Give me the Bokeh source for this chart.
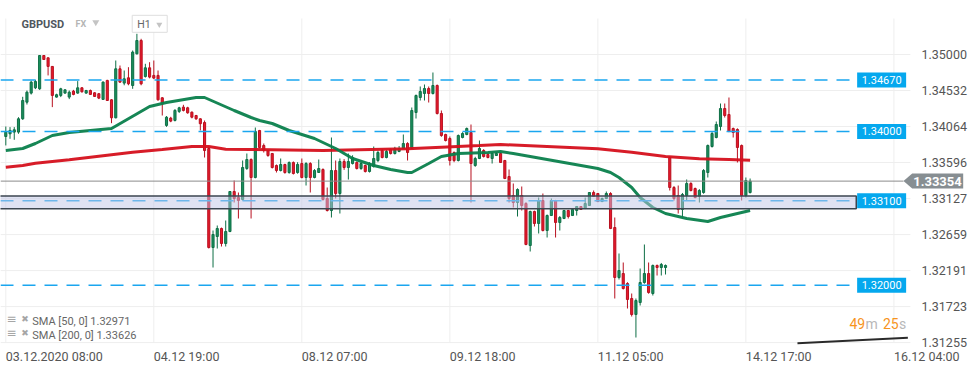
from bokeh.plotting import figure
from bokeh.models import Range1d, FixedTicker, PrintfTickFormatter, ColumnDataSource
from bokeh.embed import file_html
from bokeh.resources import INLINE
from bokeh.core.properties import value

# ---------------- data (GBPUSD, H1) ----------------
opens = [1.33934, 1.33969, 1.33991, 1.33991, 1.34164, 1.34380, 1.34498, 1.34567, 1.34554, 1.34987,
         1.34957, 1.34845, 1.34446, 1.34468, 1.34498, 1.34446, 1.34524, 1.34498, 1.34567, 1.34498,
         1.34532, 1.34502, 1.34490, 1.34416, 1.34663, 1.34411, 1.34177, 1.34814, 1.34628, 1.34697,
         1.34597, 1.35009, 1.35182, 1.34714, 1.34827, 1.34728, 1.34728, 1.34437, 1.34078, 1.34173,
         1.34143, 1.34260, 1.34316, 1.34307, 1.34250, 1.34207, 1.34164, 1.34116, 1.33778, 1.32491,
         1.32634, 1.32738, 1.32543, 1.32699, 1.33219, 1.33141, 1.33115, 1.33518, 1.33635, 1.33401,
         1.34012, 1.33817, 1.33752, 1.33713, 1.33557, 1.33492, 1.33570, 1.33466, 1.33596, 1.33466,
         1.33583, 1.33401, 1.33583, 1.33401, 1.33466, 1.33505, 1.33128, 1.32972, 1.33492, 1.33193,
         1.33609, 1.33531, 1.33583, 1.33596, 1.33518, 1.33557, 1.33479, 1.33544, 1.33622, 1.33752,
         1.33661, 1.33765, 1.33713, 1.33740, 1.33778, 1.33843, 1.33778, 1.34246, 1.34441, 1.34493,
         1.34558, 1.34493, 1.34597, 1.34233, 1.33960, 1.33908, 1.33726, 1.33622, 1.33921, 1.33960,
         1.33986, 1.33557, 1.33648, 1.33752, 1.33700, 1.33648, 1.33687, 1.33713, 1.33622, 1.33414,
         1.33167, 1.33076, 1.33167, 1.33063, 1.32517, 1.32959, 1.32803, 1.33102, 1.32712, 1.32907,
         1.33102, 1.32816, 1.32868, 1.32972, 1.32907, 1.32972, 1.33024, 1.32998, 1.33037, 1.33206,
         1.33193, 1.33089, 1.33128, 1.33193, 1.32751, 1.32101, 1.32153, 1.32023, 1.31828, 1.31620,
         1.31776, 1.32036, 1.32153, 1.31893, 1.32257, 1.32231, 1.32231, 1.33661, 1.33271, 1.33167,
         1.32985, 1.33167, 1.33323, 1.33258, 1.33154, 1.33206, 1.33466, 1.33804, 1.33921, 1.34064,
         1.34298, 1.34220, 1.34038, 1.34025, 1.33817, 1.33167, 1.33206]
highs = [1.34064, 1.34056, 1.34056, 1.34185, 1.34450, 1.34532, 1.34660, 1.34671, 1.34987, 1.34990,
         1.34960, 1.34850, 1.34490, 1.34567, 1.34545, 1.34532, 1.34540, 1.34654, 1.34575, 1.34540,
         1.34545, 1.34510, 1.34500, 1.34650, 1.34671, 1.34420, 1.34922, 1.34857, 1.34792, 1.34835,
         1.35052, 1.35269, 1.35204, 1.34879, 1.34900, 1.34922, 1.34792, 1.34445, 1.34200, 1.34190,
         1.34290, 1.34320, 1.34346, 1.34320, 1.34260, 1.34215, 1.34170, 1.34142, 1.33804, 1.32712,
         1.32777, 1.32750, 1.32842, 1.33219, 1.33362, 1.33206, 1.33622, 1.33713, 1.33650, 1.34051,
         1.34020, 1.33843, 1.33760, 1.33720, 1.33570, 1.33648, 1.33580, 1.33610, 1.33610, 1.33600,
         1.33648, 1.33600, 1.33600, 1.33510, 1.33635, 1.33520, 1.33271, 1.33921, 1.33622, 1.33648,
         1.33640, 1.33713, 1.33690, 1.33610, 1.33600, 1.33570, 1.33600, 1.33804, 1.33750, 1.33770,
         1.33760, 1.33780, 1.33800, 1.33810, 1.33960, 1.33860, 1.34311, 1.34480, 1.34584, 1.34610,
         1.34584, 1.34766, 1.34610, 1.34272, 1.33970, 1.33934, 1.33740, 1.33960, 1.33990, 1.34051,
         1.34090, 1.33670, 1.33882, 1.33770, 1.33720, 1.33730, 1.33730, 1.33730, 1.33630, 1.33505,
         1.33323, 1.33260, 1.33284, 1.33080, 1.32970, 1.32970, 1.33141, 1.33193, 1.32920, 1.33128,
         1.33110, 1.32900, 1.32980, 1.32980, 1.32990, 1.33030, 1.33030, 1.33141, 1.33210, 1.33232,
         1.33200, 1.33140, 1.33219, 1.33210, 1.32881, 1.32413, 1.32296, 1.32040, 1.31893, 1.31828,
         1.32218, 1.32530, 1.32296, 1.32270, 1.32270, 1.32290, 1.32270, 1.33670, 1.33290, 1.33297,
         1.33200, 1.33375, 1.33340, 1.33270, 1.33250, 1.33510, 1.33830, 1.34000, 1.34129, 1.34363,
         1.34363, 1.34441, 1.34050, 1.34040, 1.33830, 1.33401, 1.33388]
lows = [1.33818, 1.33904, 1.33891, 1.33969, 1.34150, 1.34350, 1.34480, 1.34550, 1.34540, 1.34930,
        1.34728, 1.34316, 1.34440, 1.34446, 1.34490, 1.34420, 1.34470, 1.34490, 1.34505, 1.34490,
        1.34475, 1.34450, 1.34420, 1.34410, 1.34400, 1.34107, 1.34170, 1.34630, 1.34600, 1.34600,
        1.34554, 1.35000, 1.34600, 1.34700, 1.34690, 1.34680, 1.34400, 1.34207, 1.34060, 1.34120,
        1.34130, 1.34240, 1.34260, 1.34230, 1.34170, 1.34150, 1.34013, 1.33661, 1.32478, 1.32231,
        1.32478, 1.32504, 1.32504, 1.32690, 1.33076, 1.32868, 1.33102, 1.33500, 1.32868, 1.33390,
        1.33780, 1.33726, 1.33670, 1.33518, 1.33466, 1.33480, 1.33450, 1.33450, 1.33440, 1.33450,
        1.33390, 1.33297, 1.33206, 1.33390, 1.33460, 1.33100, 1.32959, 1.32881, 1.33128, 1.32933,
        1.33500, 1.33375, 1.33570, 1.33505, 1.33500, 1.33466, 1.33466, 1.33530, 1.33600, 1.33650,
        1.33650, 1.33700, 1.33700, 1.33730, 1.33770, 1.33622, 1.33770, 1.34168, 1.34402, 1.34402,
        1.34376, 1.34480, 1.34220, 1.33930, 1.33870, 1.33557, 1.33600, 1.33610, 1.33910, 1.33950,
        1.33076, 1.33540, 1.33640, 1.33660, 1.33650, 1.33583, 1.33680, 1.33590, 1.33380, 1.33076,
        1.33011, 1.32894, 1.32972, 1.32520, 1.32439, 1.32764, 1.32673, 1.32700, 1.32621, 1.32900,
        1.32621, 1.32712, 1.32860, 1.32868, 1.32900, 1.32907, 1.32980, 1.32990, 1.33030, 1.33150,
        1.33080, 1.33080, 1.33120, 1.32730, 1.31828, 1.32075, 1.31945, 1.31698, 1.31594, 1.31321,
        1.31737, 1.32020, 1.31890, 1.31867, 1.32127, 1.32127, 1.32140, 1.33232, 1.33100, 1.32933,
        1.32881, 1.33102, 1.33220, 1.33130, 1.33076, 1.33190, 1.33401, 1.33790, 1.33910, 1.34012,
        1.34181, 1.33990, 1.33921, 1.33596, 1.33102, 1.33141, 1.33193]
closes = [1.33990, 1.34013, 1.34021, 1.34164, 1.34402, 1.34510, 1.34641, 1.34650, 1.34987, 1.34935,
          1.34845, 1.34468, 1.34477, 1.34554, 1.34541, 1.34510, 1.34481, 1.34567, 1.34515, 1.34532,
          1.34481, 1.34455, 1.34433, 1.34641, 1.34402, 1.34177, 1.34814, 1.34641, 1.34684, 1.34619,
          1.35031, 1.35182, 1.34619, 1.34827, 1.34706, 1.34693, 1.34411, 1.34359, 1.34185, 1.34134,
          1.34273, 1.34307, 1.34273, 1.34242, 1.34185, 1.34164, 1.34100, 1.33752, 1.32491, 1.32660,
          1.32738, 1.32543, 1.32699, 1.33219, 1.33128, 1.33102, 1.33531, 1.33635, 1.33401, 1.34000,
          1.33791, 1.33752, 1.33687, 1.33531, 1.33492, 1.33570, 1.33466, 1.33596, 1.33453, 1.33570,
          1.33401, 1.33583, 1.33401, 1.33492, 1.33518, 1.33115, 1.32972, 1.33492, 1.33193, 1.33609,
          1.33531, 1.33609, 1.33661, 1.33518, 1.33583, 1.33479, 1.33583, 1.33648, 1.33726, 1.33661,
          1.33739, 1.33713, 1.33778, 1.33778, 1.33843, 1.33726, 1.34272, 1.34467, 1.34519, 1.34558,
          1.34493, 1.34597, 1.34233, 1.33947, 1.33882, 1.33622, 1.33622, 1.33947, 1.33973, 1.34038,
          1.33583, 1.33648, 1.33778, 1.33674, 1.33661, 1.33713, 1.33713, 1.33596, 1.33388, 1.33128,
          1.33076, 1.33245, 1.33037, 1.32530, 1.32959, 1.32803, 1.33102, 1.32712, 1.32907, 1.33102,
          1.32816, 1.32881, 1.32972, 1.32894, 1.32985, 1.33024, 1.32985, 1.33063, 1.33206, 1.33154,
          1.33089, 1.33128, 1.33193, 1.32738, 1.32101, 1.32192, 1.31958, 1.31815, 1.31620, 1.31802,
          1.32036, 1.32153, 1.31906, 1.32257, 1.32231, 1.32270, 1.32257, 1.33271, 1.33128, 1.32985,
          1.33180, 1.33323, 1.33232, 1.33141, 1.33232, 1.33492, 1.33817, 1.33973, 1.34090, 1.34298,
          1.34207, 1.33999, 1.33986, 1.33791, 1.33167, 1.33362, 1.33354]

sma50_idx = [0, 4, 7, 11, 15, 25, 34, 38, 45, 47, 54, 58, 60, 63, 67, 73, 78, 82, 87, 91, 95, 96,
             100, 103, 107, 114, 117, 120, 124, 132, 140, 143, 145, 148, 150, 153, 156, 161, 166,
             169, 174, 176]
sma50_val = [1.33752, 1.33778, 1.33843, 1.33947, 1.33986, 1.34038, 1.34324, 1.34376, 1.34441,
             1.34441, 1.34272, 1.34181, 1.34142, 1.34103, 1.34012, 1.33908, 1.33778, 1.33648,
             1.33557, 1.33505, 1.33466, 1.33466, 1.33583, 1.33674, 1.33713, 1.33726, 1.33739,
             1.33713, 1.33674, 1.33596, 1.33518, 1.33466, 1.33401, 1.33271, 1.33141, 1.33011,
             1.32933, 1.32868, 1.32829, 1.32881, 1.32946, 1.32971]
sma200_idx = [0, 4, 7, 15, 22, 30, 37, 44, 48, 52, 58, 75, 95, 103, 112, 117, 128, 140, 148, 156,
              164, 171, 176]
sma200_val = [1.33535, 1.33557, 1.33587, 1.33631, 1.33678, 1.33730, 1.33765, 1.33804, 1.33804,
              1.33769, 1.33765, 1.33752, 1.33774, 1.33795, 1.33817, 1.33830, 1.33804, 1.33774,
              1.33730, 1.33674, 1.33644, 1.33635, 1.33626]

levels = [1.34670, 1.34000, 1.33100, 1.32000]
level_labels = ["1.34670", "1.34000", "1.33100", "1.32000"]
zone_bottom, zone_top = 1.32995, 1.33160
last_price = 1.33354
trend_x = [187.2, 213.3]
trend_y = [1.31247, 1.31317]

price_ticks = [1.31255, 1.31723, 1.32191, 1.32659, 1.33127, 1.33596, 1.34064, 1.34532, 1.35000]
time_ticks = [0, 35, 70, 105, 140, 175, 210]
time_labels = ["03.12.2020 08:00", "04.12 19:00", "08.12 07:00", "09.12 18:00",
               "11.12 05:00", "14.12 17:00", "16.12 04:00"]

FONT = "Roboto"
X0, X1 = -1.2533, 229.06        # bar index range across the canvas
Y0, Y1 = 1.30918, 1.35702       # price range across the canvas
PLOT_TOP, PLOT_BOTTOM = 1.35468, 1.31256
AXIS_X = 212.27                 # bar index where the price scale begins
LEVEL_END = 201.4
LABEL_X = 207.1

# ---------------- figure ----------------
p = figure(width=974, height=368, output_backend="svg", toolbar_location=None,
           x_range=Range1d(X0, X1), y_range=Range1d(Y0, Y1), y_axis_location="right",
           min_border_left=0, min_border_right=0, min_border_top=0, min_border_bottom=0)
p.title.visible = False
p.outline_line_color = None
p.background_fill_color = "white"
p.border_fill_color = "white"
p.xgrid.visible = False
p.ygrid.visible = False

# grid lines
p.segment(x0=[X0] * len(price_ticks), x1=[213.9] * len(price_ticks), y0=price_ticks, y1=price_ticks,
          line_color="#eeeeee", line_width=1)
p.segment(x0=time_ticks, x1=time_ticks, y0=[PLOT_BOTTOM] * len(time_ticks),
          y1=[PLOT_TOP] * len(time_ticks), line_color="#eeeeee", line_width=1)

# price axis (right)
p.yaxis.fixed_location = AXIS_X
p.yaxis.ticker = FixedTicker(ticks=price_ticks)
p.yaxis.formatter = PrintfTickFormatter(format="%.5f")
p.yaxis.axis_line_color = None
p.yaxis.major_tick_line_color = None
p.yaxis.minor_tick_line_color = None
p.yaxis.major_label_standoff = 12
p.yaxis.major_label_text_font = FONT
p.yaxis.major_label_text_font_size = "12.5px"
p.yaxis.major_label_text_color = "#555555"

# time axis (bottom), labels left-aligned at their grid line
p.xaxis.fixed_location = PLOT_BOTTOM
p.xaxis.ticker = FixedTicker(ticks=time_ticks)
p.xaxis.major_label_overrides = {t: s for t, s in zip(time_ticks, time_labels)}
p.xaxis.major_label_orientation = -0.0001
p.xaxis.axis_line_color = None
p.xaxis.major_tick_line_color = None
p.xaxis.minor_tick_line_color = None
p.xaxis.major_label_standoff = 8
p.xaxis.major_label_text_font = FONT
p.xaxis.major_label_text_font_size = "12.5px"
p.xaxis.major_label_text_color = "#555555"

# ---------------- candles ----------------
n = len(opens)
up = [c >= o for o, c in zip(opens, closes)]
src = ColumnDataSource(dict(
    x=list(range(n)), h=highs, l=lows,
    top=[max(o, c) for o, c in zip(opens, closes)],
    bottom=[min(o, c) for o, c in zip(opens, closes)],
    fill=["#1b8f5c" if u else "#e8192c" for u in up],
    line=["#0d6e45" if u else "#b8101f" for u in up],
))
p.segment(x0="x", y0="h", x1="x", y1="l", line_color="line", line_width=1, source=src)
p.vbar(x="x", width=0.5, top="top", bottom="bottom", fill_color="fill", line_color="line",
       line_width=1, source=src)

# moving averages
p.line(sma200_idx, sma200_val, line_color="#d5101c", line_width=3, line_alpha=0.95)
p.line(sma50_idx, sma50_val, line_color="#0a804c", line_width=3, line_alpha=0.95)

# horizontal levels
p.segment(x0=[X0] * len(levels), x1=[LEVEL_END] * len(levels), y0=levels, y1=levels,
          line_color="#1aa6ef", line_width=1.5, line_dash="13 9")

# zone around 1.33100
p.quad(left=[X0 - 1], right=[201.1], bottom=[zone_bottom], top=[zone_top],
       fill_color="#bfc5e5", fill_alpha=0.5, line_color="#3c4650", line_width=1.5)

# level label boxes
p.rect(x=[LABEL_X] * len(levels), y=levels, width=49, height=15, width_units="screen",
       height_units="screen", fill_color="#05a8ee", line_color=None)
p.text(x=[LABEL_X] * len(levels), y=levels, text=level_labels, text_color="white",
       text_font=value(FONT), text_font_size="11px", text_align="center", text_baseline="middle")

# last price line and marker
p.segment(x0=[X0], x1=[AXIS_X], y0=[last_price], y1=[last_price], line_color="#8c8c8c", line_width=1)
half = 0.000975
p.patch(x=[AXIS_X, 214.33, 226.39, 226.39, 214.33],
        y=[last_price, last_price + half, last_price + half, last_price - half, last_price - half],
        fill_color="#878e92", line_color=None)
p.text(x=[220.3], y=[last_price], text=[f"{last_price:.5f}"], text_color="white",
       text_font=value(FONT), text_font_size="13px", text_font_style="bold",
       text_align="center", text_baseline="middle")

# trend line at the bottom right
p.line(trend_x, trend_y, line_color="#2a2a2a", line_width=2)

# ---------------- header ----------------
p.text(x=[3.71], y=[1.35394], text=["GBPUSD"], text_font=value(FONT), text_font_size="11px",
       text_font_style="bold", text_color="#50575e", text_baseline="middle")
p.text(x=[16.48], y=[1.35393], text=["FX"], text_font=value(FONT), text_font_size="9px",
       text_font_style="bold", text_color="#b5b5b5", text_baseline="middle")
p.scatter(x=[21.28], y=[1.35420], marker="inverted_triangle", size=7, fill_color="#c4c4c4",
          line_color=None)
p.rect(x=[34.03], y=[1.35399], width=35, height=17, width_units="screen", height_units="screen",
       fill_color="white", line_color="#dedede", line_width=1)
p.text(x=[31.07], y=[1.35394], text=["H1"], text_font=value(FONT), text_font_size="10.5px",
       text_color="#666666", text_baseline="middle")
p.scatter(x=[36.3], y=[1.35390], marker="inverted_triangle", size=6, fill_color="#c4c4c4",
          line_color=None)

# ---------------- indicator legend ----------------
legend_rows = [f"SMA [50, 0] {sma50_val[-1]:.5f}", f"SMA [200, 0] {sma200_val[-1]:.5f}"]
icon_y = [1.31564, 1.31376]
text_y = [1.31525, 1.31341]
p.text(x=[1.35, 1.35], y=icon_y, text=["\u2261", "\u2261"], text_font=value("DejaVu Sans"),
       text_font_size="12px", text_color="#a6a6a6", text_align="center", text_baseline="middle")
p.text(x=[4.54, 4.54], y=icon_y, text=["\u2716", "\u2716"], text_font=value("DejaVu Sans"),
       text_font_size="9px", text_color="#a6a6a6", text_align="center", text_baseline="middle")
p.text(x=[6.24, 6.24], y=text_y, text=legend_rows, text_font=value(FONT), text_font_size="11px",
       text_color="#666666", text_baseline="middle")

# ---------------- countdown ----------------
cd_y = 1.31503
p.text(x=[199.5, 207.4], y=[cd_y, cd_y], text=["49", "25"], text_font=value(FONT),
       text_font_size="14px", text_color="#f7941d", text_baseline="middle")
p.text(x=[203.3, 211.2], y=[cd_y, cd_y], text=["m", "s"], text_font=value(FONT),
       text_font_size="14px", text_color="#b8b8b8", text_baseline="middle")

open("out.html", "w").write(file_html(p, INLINE))
